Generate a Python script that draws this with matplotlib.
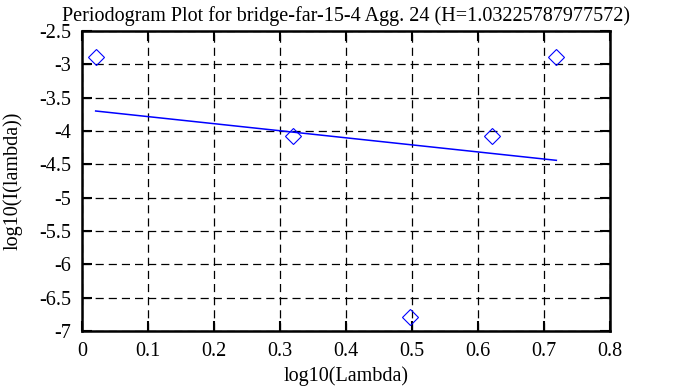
import matplotlib
matplotlib.use("Agg")
import matplotlib.pyplot as plt
import numpy as np

# periodogram points (log10 frequency, log10 power)
log_lambda = [0.0207, 0.320, 0.497, 0.621, 0.7187]
log_power = [-2.894, -4.074, -6.784, -4.074, -2.894]

# least squares fit line endpoints
fit_x = [0.0207, 0.7187]
fit_y = [-3.70, -4.44]

title = "Periodogram Plot for bridge-far-15-4 Agg. 24 (H=1.03225787977572)"

plt.rcParams["font.family"] = ["Liberation Serif", "DejaVu Serif"]
fs = 14.5

fig = plt.figure(figsize=(6.78, 3.87), dpi=100)
ax = fig.add_axes([82 / 678, 56 / 387, 528 / 678, 300 / 387])

ax.plot(fit_x, fit_y, color="blue", lw=1.1)
ax.plot(log_lambda, log_power, linestyle="none", marker="D", markersize=8.5,
        markerfacecolor="none", markeredgecolor="blue", markeredgewidth=0.8)

ax.set_xlim(0, 0.8)
ax.set_ylim(-7, -2.5)
ax.set_xticks(np.arange(0, 0.81, 0.1))
ax.set_yticks(np.arange(-7, -2.49, 0.5))
ax.set_xticklabels(["0", "0.1", "0.2", "0.3", "0.4", "0.5", "0.6", "0.7", "0.8"])
ax.set_yticklabels(["-7", "-6.5", "-6", "-5.5", "-5", "-4.5", "-4", "-3.5", "-3", "-2.5"])

ax.grid(True, color="black", linestyle=(0, (6.5, 4)), linewidth=0.9)
ax.tick_params(direction="in", length=7, width=1.5, top=True, right=True,
               pad=8, labelsize=fs)
for s in ax.spines.values():
    s.set_linewidth(1.8)

ax.set_title(title, fontsize=fs, pad=7)
ax.set_xlabel("log10(Lambda)", fontsize=fs, labelpad=4)
ax.set_ylabel("log10(I(lambda))", fontsize=fs, labelpad=12)

fig.savefig("out.png", dpi=100)
